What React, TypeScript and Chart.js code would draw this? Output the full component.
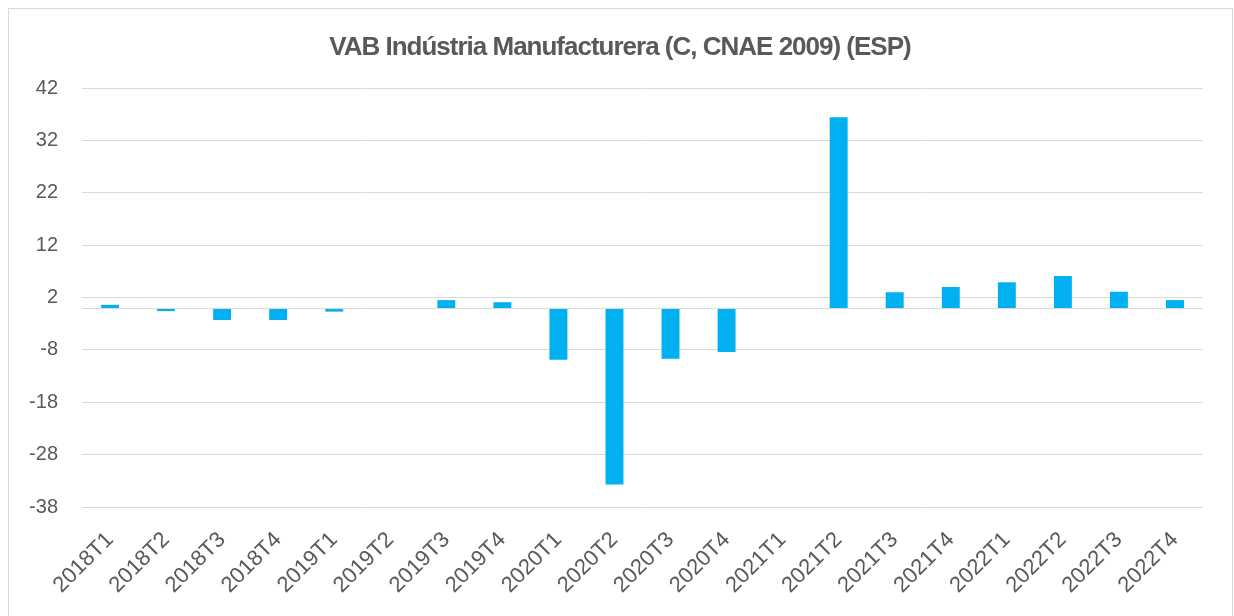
import React, { useEffect, useRef } from "react";
import { Chart, registerables } from "chart.js";

Chart.register(...registerables);

const TITLE = "VAB Indústria Manufacturera (C, CNAE 2009) (ESP)";
const CATEGORIES = [
  "2018T1", "2018T2", "2018T3", "2018T4",
  "2019T1", "2019T2", "2019T3", "2019T4",
  "2020T1", "2020T2", "2020T3", "2020T4",
  "2021T1", "2021T2", "2021T3", "2021T4",
  "2022T1", "2022T2", "2022T3", "2022T4",
];
const VALUES = [
  0.6, -0.6, -2.3, -2.3,
  -0.7, 0, 1.5, 1.1,
  -9.9, -33.7, -9.7, -8.4,
  -0.2, 36.4, 3.0, 4.0,
  4.9, 6.1, 3.1, 1.5,
];
const Y_MIN = -38;
const Y_MAX = 42;
const Y_STEP = 10;

const BAR_COLOR = "#00B0F0";
const TEXT_COLOR = "#595959";
const GRID_COLOR = "#d9d9d9";
const FONT = "'Liberation Sans', Arial, sans-serif";

const W = 1223;
const H = 607;

export default function App() {
  const ref = useRef<HTMLCanvasElement | null>(null);

  useEffect(() => {
    if (!ref.current) return;
    const decor = {
      id: "decor",
      afterDatasetsDraw(chart: any) {
        const { ctx, chartArea, scales } = chart;
        const y0 = Math.round(scales.y.getPixelForValue(0)) + 0.5;
        ctx.save();
        ctx.strokeStyle = GRID_COLOR;
        ctx.lineWidth = 1;
        ctx.beginPath();
        ctx.moveTo(chartArea.left, y0);
        ctx.lineTo(chartArea.right, y0);
        ctx.stroke();
        ctx.restore();
      },
      afterDraw(chart: any) {
        const { ctx } = chart;
        ctx.save();
        ctx.font = `bold 26px ${FONT}`;
        (ctx as any).letterSpacing = "-1px";
        ctx.fillStyle = TEXT_COLOR;
        ctx.textAlign = "center";
        ctx.textBaseline = "alphabetic";
        ctx.fillText(TITLE, 611, 46);
        ctx.restore();
      },
    };

    const chart = new Chart(ref.current, {
      type: "bar",
      data: {
        labels: CATEGORIES,
        datasets: [
          {
            data: VALUES,
            backgroundColor: BAR_COLOR,
            borderWidth: 0,
            barPercentage: 0.32,
            categoryPercentage: 1,
          },
        ],
      },
      options: {
        animation: false,
        responsive: false,
        maintainAspectRatio: false,
        layout: { padding: { top: 79, right: 29, left: 0, bottom: 0 } },
        plugins: {
          legend: { display: false },
          title: { display: false },
          tooltip: { enabled: false },
        },
        scales: {
          x: {
            grid: { display: false },
            border: { display: false },
            ticks: {
              autoSkip: false,
              maxRotation: 45,
              minRotation: 45,
              color: TEXT_COLOR,
              font: { family: FONT, size: 22 },
              padding: 12,
            },
            afterFit: (scale: any) => {
              scale.height = 109;
            },
          },
          y: {
            min: Y_MIN,
            max: Y_MAX,
            grid: { color: GRID_COLOR, drawTicks: false, lineWidth: 1 },
            border: { display: false },
            ticks: {
              stepSize: Y_STEP,
              color: TEXT_COLOR,
              font: { family: FONT, size: 20 },
              padding: 24,
            },
            afterFit: (scale: any) => {
              scale.width = 73;
            },
          },
        },
      },
      plugins: [decor],
    });
    return () => chart.destroy();
  }, []);

  return (
    <div
      style={{
        position: "fixed",
        left: 8,
        top: 8,
        width: W,
        height: H + 20,
        borderTop: `1px solid ${GRID_COLOR}`,
        borderLeft: `1px solid ${GRID_COLOR}`,
        borderRight: `1px solid ${GRID_COLOR}`,
        background: "#fff",
      }}
    >
      <canvas ref={ref} width={W} height={H} style={{ display: "block", width: W, height: H }} />
    </div>
  );
}
